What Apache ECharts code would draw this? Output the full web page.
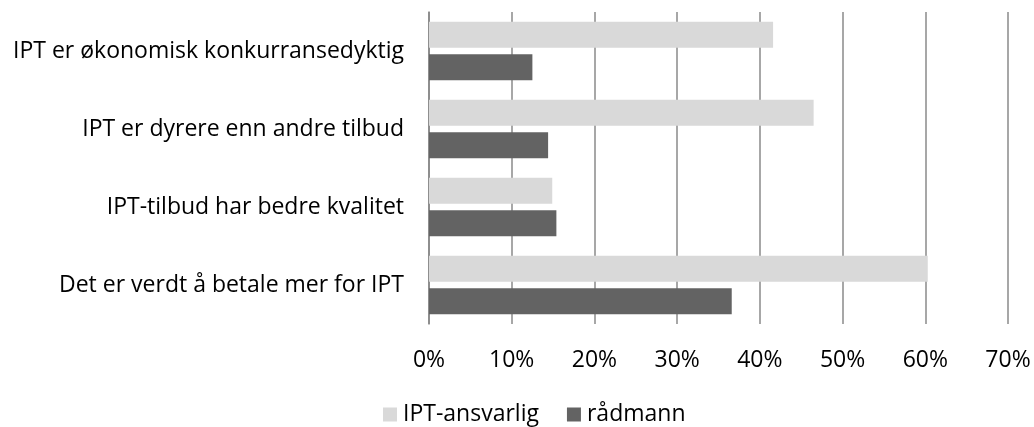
<!DOCTYPE html>
<html>
<head>
<meta charset="utf-8">
<script src="https://cdn.jsdelivr.net/npm/echarts@6/dist/echarts.min.js"></script>
<style>
html, body { margin: 0; padding: 0; background: #fff; }
#chart { width: 1034px; height: 427px; }
</style>
</head>
<body>
<div id="chart"></div>
<script>
var categories = [
    'IPT er økonomisk konkurransedyktig',
    'IPT er dyrere enn andre tilbud',
    'IPT-tilbud har bedre kvalitet',
    'Det er verdt å betale mer for IPT'
];
var iptAnsvarlig = [41.6, 46.5, 14.9, 60.3];
var radmann = [12.5, 14.4, 15.4, 36.6];
var seriesNames = ['IPT-ansvarlig', 'rådmann'];

var font = '"Open Sans", sans-serif';
var chart = echarts.init(document.getElementById('chart'));
var option = {
    animation: false,
    grid: { // plot area as in the picture
        left: 429,
        right: 26,
        top: 12,
        bottom: 103
    },
    legend: {
        top: 398,
        left: 378,
        itemWidth: 14,
        itemHeight: 14,
        itemGap: 28,
        icon: 'rect',
        textStyle: { fontFamily: font, fontSize: 23, color: '#000', padding: [0, 0, 0, 1] },
        data: seriesNames
    },
    xAxis: {
        type: 'value',
        min: 0,
        max: 70,
        interval: 10,
        axisLine: { show: false },
        axisTick: { show: false },
        axisLabel: {
            margin: 25,
            fontFamily: font,
            fontSize: 23,
            color: '#000',
            formatter: '{value}%'
        },
        splitLine: {
            show: true,
            lineStyle: { color: '#8a8a8a', width: 1.5 }
        }
    },
    yAxis: {
        type: 'category',
        inverse: true,
        data: categories,
        axisLine: { show: true, lineStyle: { color: '#868686', width: 1.5 } },
        axisTick: { show: false },
        axisLabel: {
            margin: 25,
            fontFamily: font,
            fontSize: 23,
            color: '#000'
        }
    },
    series: [
        {
            name: seriesNames[0],
            type: 'bar',
            data: iptAnsvarlig,
            barGap: '25%',
            barCategoryGap: '25%',
            itemStyle: { color: '#d9d9d9' }
        },
        {
            name: seriesNames[1],
            type: 'bar',
            data: radmann,
            barGap: '25%',
            barCategoryGap: '25%',
            itemStyle: { color: '#636363' }
        }
    ]
};
chart.setOption(option);
</script>
</body>
</html>
